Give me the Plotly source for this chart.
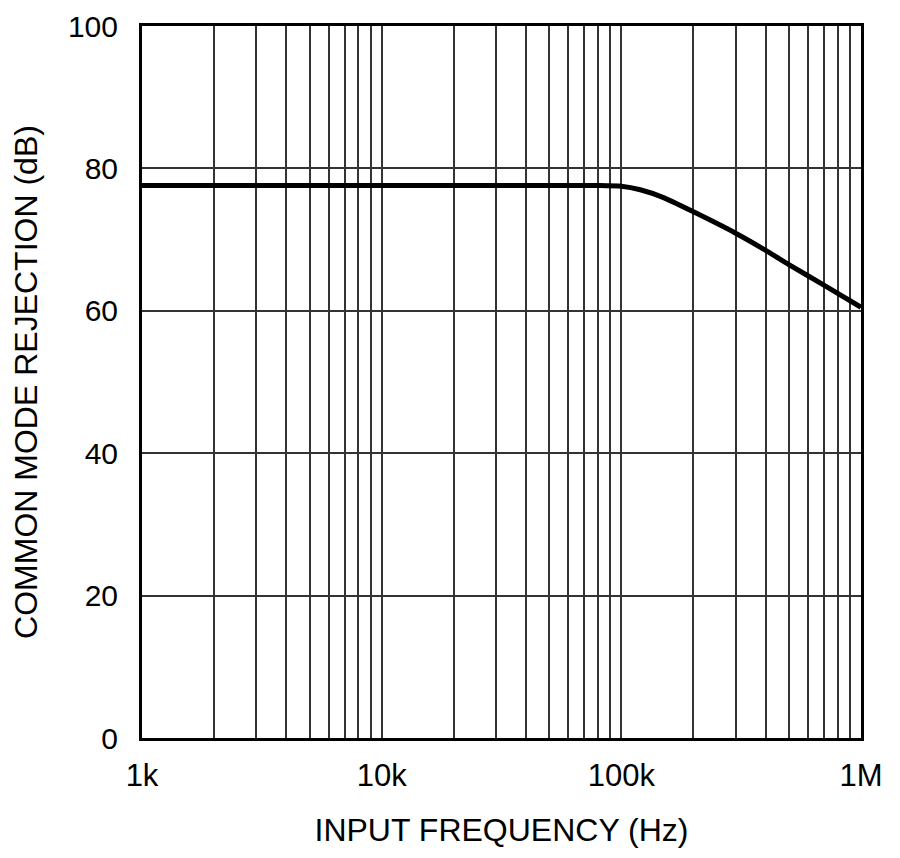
import plotly.graph_objects as go

# CMRR vs input frequency
freq_hz = [1e3, 1e4, 5e4, 8e4, 1e5, 1.2e5, 1.5e5, 2e5, 3e5, 4e5, 5e5, 7e5, 1e6]
cmrr_db = [77.6, 77.6, 77.6, 77.6, 77.5, 77.0, 75.9, 73.9, 70.9, 68.5, 66.5, 63.6, 60.5]

major_vals = [1e3, 1e4, 1e5, 1e6]
major_text = ["1k", "10k", "100k", "1M"]
y_ticks = [0, 20, 40, 60, 80, 100]

# every 1..9 multiple gets a grid line, only decades get a label
xt_vals, xt_text = [], []
for d in major_vals[:-1]:
    for m in range(1, 10):
        xt_vals.append(d * m)
        xt_text.append(major_text[major_vals.index(d)] if m == 1 else "")
xt_vals.append(1e6)
xt_text.append("1M")

font = "Liberation Sans, Arial, sans-serif"

fig = go.Figure()
fig.add_trace(go.Scatter(
    x=freq_hz, y=cmrr_db, mode="lines",
    line=dict(color="black", width=5, shape="spline", smoothing=0.6),
    hoverinfo="skip"
))

fig.update_layout(
    autosize=True,
    showlegend=False,
    plot_bgcolor="white", paper_bgcolor="white",
    margin=dict(l=134, r=31, t=18, b=112),
    font=dict(family=font, size=31, color="black"),
    xaxis=dict(
        type="log", range=[3, 6], automargin=False,
        tickvals=xt_vals, ticktext=xt_text, ticks="",
        showgrid=True, gridcolor="#333", gridwidth=1.6,
        showline=True, linecolor="black", linewidth=3, mirror=True,
        zeroline=False, ticklabelstandoff=8, ticklabeloverflow="allow",
        title=dict(text="INPUT FREQUENCY (Hz)", standoff=27,
                   font=dict(size=32)),
    ),
    yaxis=dict(
        range=[0, 100], automargin=False, tickvals=y_ticks, ticks="",
        tickfont=dict(size=30),
        showgrid=True, gridcolor="#333", gridwidth=1.6,
        showline=True, linecolor="black", linewidth=3, mirror=True,
        zeroline=False, ticklabelstandoff=15, ticklabeloverflow="allow",
        title=dict(text="COMMON MODE REJECTION (dB)", standoff=24,
                   font=dict(size=32)),
    ),
)

fig.write_html("out.html")
